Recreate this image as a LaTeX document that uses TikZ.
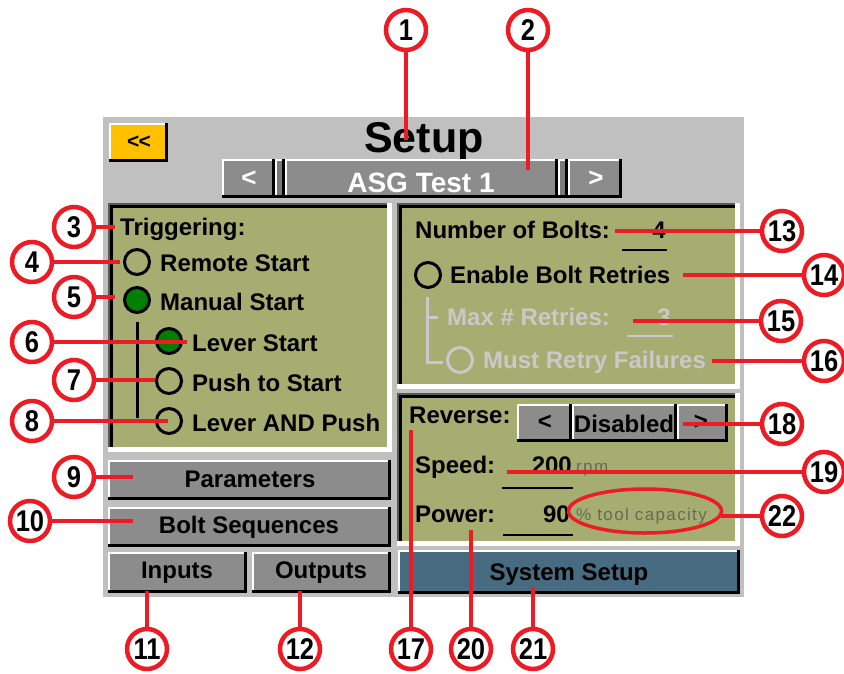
\documentclass[tikz,border=0pt]{standalone}
\usepackage{fontspec}
\setmainfont{Liberation Sans}
\newfontfamily\unitfont{Liberation Sans}[LetterSpace=8]
\usetikzlibrary{shapes.geometric}

\definecolor{scrgray}{HTML}{C0C0C0}
\definecolor{btngray}{HTML}{8C8C8C}
\definecolor{sepgray}{HTML}{7A7A7A}
\definecolor{lcdgreen}{HTML}{A5AD71}
\definecolor{radiogreen}{HTML}{007F00}
\definecolor{dimgray}{HTML}{C9C9C9}
\definecolor{unitgray}{HTML}{656B58}
\definecolor{calred}{HTML}{ED1C24}
\definecolor{sysblue}{HTML}{476B80}
\definecolor{backyellow}{HTML}{FFC000}

\newcommand\rbtn[5]{%
 \fill[black] (#1,#2) rectangle (#3,#4);
 \fill[white] (#1,#2) rectangle ({#3-3},{#4-3});
 \fill[#5] ({#1+2},{#2+2}) rectangle ({#3-3},{#4-3});
}
\newcommand\lcdpanel[4]{%
 \fill[white] (#1,#2) rectangle (#3,#4);
 \fill[black!65] (#1,#2) rectangle ({#3-5},{#4-5});
 \fill[black] ({#1+2},{#2+2}) rectangle ({#3-5},{#4-5});
 \fill[lcdgreen] ({#1+5},{#2+5}) rectangle ({#3-5},{#4-5});
}

\tikzset{
 ui/.style={font=\fontsize{24}{24}\selectfont\bfseries, inner sep=0pt, anchor=base west},
 uic/.style={ui, anchor=base},
 unit/.style={font=\unitfont\fontsize{17}{17}\selectfont, text=unitgray, inner sep=0pt, anchor=base west},
 callout/.style={circle, draw=calred, line width=4.5pt, fill=white, minimum size=40pt, inner sep=0pt,
   font=\fontsize{30}{30}\selectfont\bfseries},
 callline/.style={draw=calred, line width=4pt},
 radio/.style={circle, draw=black, line width=3pt, minimum size=25pt, inner sep=0pt},
 uline/.style={draw=black, line width=2pt},
 tree/.style={draw=black, line width=3pt},
}

\begin{document}
\begin{tikzpicture}[x=1pt,y=-1pt]
\useasboundingbox (0,0) rectangle (844,673);
\fill[white] (0,0) rectangle (844,673);

% screen
\fill[scrgray] (103,117) rectangle (744,597);

% back button and title
\rbtn{109}{123}{168}{162}{backyellow}
\node[font=\fontsize{21}{21}\selectfont\bfseries, inner sep=0pt] (back) at (139,142) {{<}\kern-1pt{<}};
\node[uic, font=\fontsize{43}{43}\selectfont\bfseries] (title) at (424,152) {Setup};

% top selector
\rbtn{222}{159}{275}{198}{btngray}
\rbtn{275}{159}{285}{198}{sepgray}
\rbtn{285}{159}{558}{198}{btngray}
\rbtn{558}{159}{568}{198}{sepgray}
\rbtn{568}{159}{622}{198}{btngray}
\node[text=white, font=\fontsize{26}{26}\selectfont\bfseries, inner sep=0pt] (prevprog) at (249,179) {<};
\node[text=white, font=\fontsize{26}{26}\selectfont\bfseries, inner sep=0pt] (nextprog) at (596,179) {>};
\node[uic, text=white, font=\fontsize{28}{28}\selectfont\bfseries] (asg) at (421,192) {ASG Test 1};

% panels
\lcdpanel{108}{203}{392}{452}
\lcdpanel{397}{203}{740}{389}
\lcdpanel{397}{393}{740}{546}

% triggering panel
\node[ui] (trig) at (120,235) {Triggering:};
\draw[tree] (137,322) -- (137,418);
\node[radio] (rRemote) at (137,262) {};
\node[radio, fill=radiogreen] (rManual) at (137,300) {};
\node[radio, fill=radiogreen] (rLever) at (169,341) {};
\node[radio] (rPush) at (169,381) {};
\node[radio] (rLandP) at (169,421) {};
\node[ui] (tRemote) at (160,271) {Remote Start};
\node[ui] (tManual) at (160,310) {Manual Start};
\node[ui] (tLever) at (192,351) {Lever Start};
\node[ui] (tPush) at (192,391) {Push to Start};
\node[ui] (tLandP) at (192,431) {Lever AND Push};

% bolts panel
\node[ui] (nbolts) at (415,238) {Number of Bolts:};
\node[uic] (nboltsv) at (659,238) {4};
\draw[uline] (622,250) -- (667,250);
\node[radio] (rRetry) at (428,275) {};
\node[ui] (tRetry) at (450,283) {Enable Bolt Retries};
\draw[tree, draw=dimgray] (427,297) -- (427,362) -- (443,362);
\draw[tree, draw=dimgray] (427,317) -- (438,317);
\node[ui, text=dimgray] (maxr) at (447,325) {Max \# Retries:};
\node[uic, text=dimgray] (maxrv) at (664,325) {3};
\draw[uline, draw=dimgray] (627,336) -- (673,336);
\node[radio, draw=dimgray] (rMust) at (460,360) {};
\node[ui, text=dimgray] (tMust) at (483,368) {Must Retry Failures};

% reverse / speed / power panel
\node[ui] (rev) at (409,423) {Reverse:};
\rbtn{517}{404}{572}{442}{btngray}
\rbtn{572}{404}{677}{442}{btngray}
\rbtn{677}{404}{728}{442}{btngray}
\node[font=\fontsize{24}{24}\selectfont\bfseries, inner sep=0pt] (revprev) at (545,422) {<};
\node[uic] (revval) at (624,432) {Disabled};
\node[font=\fontsize{24}{24}\selectfont\bfseries, inner sep=0pt] (revnext) at (701,422) {>};
\node[ui] (speed) at (415,473) {Speed:};
\node[ui, anchor=base east] (speedv) at (572,473) {200};
\node[unit] (rpm) at (576,472) {rpm};
\draw[uline] (502,488) -- (573,488);
\node[ui] (power) at (415,522) {Power:};
\node[ui, anchor=base east] (powerv) at (570,522) {90};
\node[unit] (cap) at (576,520) {\% tool capacity};
\draw[uline] (503,535) -- (573,535);

% buttons
\rbtn{108}{460}{391}{500}{btngray}
\node[uic] (bParam) at (250,487) {Parameters};
\rbtn{108}{507}{391}{547}{btngray}
\node[uic] (bSeq) at (249,533) {Bolt Sequences};
\rbtn{108}{552}{247}{593}{btngray}
\node[uic] (bIn) at (177,578) {Inputs};
\rbtn{252}{552}{391}{593}{btngray}
\node[uic] (bOut) at (321,578) {Outputs};
\rbtn{398}{550}{740}{594}{sysblue}
\node[uic] (bSys) at (569,580) {System Setup};

% highlight ellipse
\node[ellipse, draw=calred, line width=3.5pt, minimum width=153pt, minimum height=44pt, inner sep=0pt] (ell) at (645,511) {};

% callout targets
\coordinate (t1) at (406,140);
\coordinate (t2) at (528,170);
\coordinate (t3) at (115,227);
\coordinate (t4) at (120,262);
\coordinate (t5) at (115,297);
\coordinate (t6) at (187,342);
\coordinate (t7) at (155,380);
\coordinate (t8) at (168,421);
\coordinate (t9) at (133,477);
\coordinate (t10) at (133,521);
\coordinate (t11) at (147,591);
\coordinate (t12) at (300,591);
\coordinate (t13) at (615,231);
\coordinate (t14) at (683,275);
\coordinate (t15) at (633,321);
\coordinate (t16) at (712,361);
\coordinate (t17) at (411,430);
\coordinate (t18) at (683,424);
\coordinate (t19) at (507,472);
\coordinate (t20) at (471,530);
\coordinate (t21) at (533,588);
\coordinate (t22) at (721,516);

% callout circles
\node[callout] (c1) at (406,30) {\scalebox{0.85}[1]{1}};
\node[callout] (c2) at (528,30) {\scalebox{0.85}[1]{2}};
\node[callout] (c3) at (74,227) {\scalebox{0.85}[1]{3}};
\node[callout] (c4) at (32,262) {\scalebox{0.85}[1]{4}};
\node[callout] (c5) at (74,297) {\scalebox{0.85}[1]{5}};
\node[callout] (c6) at (32,342) {\scalebox{0.85}[1]{6}};
\node[callout] (c7) at (74,380) {\scalebox{0.85}[1]{7}};
\node[callout] (c8) at (32,421) {\scalebox{0.85}[1]{8}};
\node[callout] (c9) at (74,477) {\scalebox{0.85}[1]{9}};
\node[callout] (c10) at (30,521) {\scalebox{0.85}[1]{10}};
\node[callout] (c11) at (147,649) {\scalebox{0.85}[1]{11}};
\node[callout] (c12) at (300,649) {\scalebox{0.85}[1]{12}};
\node[callout] (c13) at (782,231) {\scalebox{0.85}[1]{13}};
\node[callout] (c14) at (824,275) {\scalebox{0.85}[1]{14}};
\node[callout] (c15) at (781,321) {\scalebox{0.85}[1]{15}};
\node[callout] (c16) at (824,361) {\scalebox{0.85}[1]{16}};
\node[callout] (c17) at (411,649) {\scalebox{0.85}[1]{17}};
\node[callout] (c18) at (782,424) {\scalebox{0.85}[1]{18}};
\node[callout] (c19) at (824,472) {\scalebox{0.85}[1]{19}};
\node[callout] (c20) at (471,649) {\scalebox{0.85}[1]{20}};
\node[callout] (c21) at (533,649) {\scalebox{0.85}[1]{21}};
\node[callout] (c22) at (782,516) {\scalebox{0.85}[1]{22}};

% callout lines
\foreach \i in {1,...,22}{\draw[callline] (c\i) -- (t\i);}
\end{tikzpicture}
\end{document}
